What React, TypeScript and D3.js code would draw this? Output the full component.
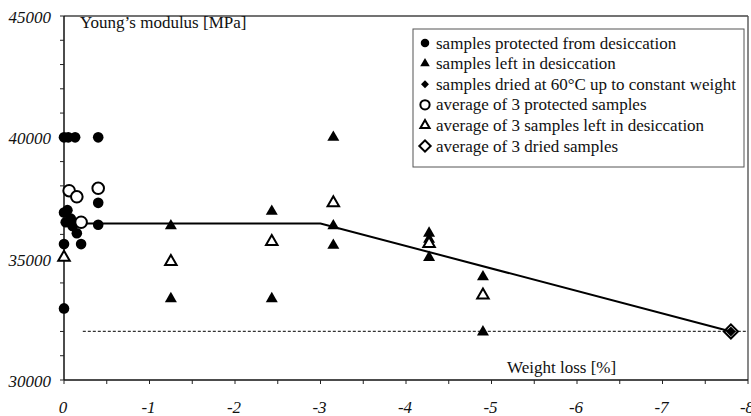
import React from 'react';
import * as d3 from 'd3';

// ---- data ----
const xTickValues = [0, -1, -2, -3, -4, -5, -6, -7, -8];
const xTickLabels = ['0', '-1', '-2', '-3', '-4', '-5', '-6', '-7', '-8'];
const yTickValues = [30000, 35000, 40000, 45000];
const yTickLabels = ['30000', '35000', '40000', '45000'];

const protectedSamples: [number, number][] = [
  [0, 40000], [-0.05, 40000], [-0.13, 40000], [-0.4, 40000],
  [-0.4, 37300], [-0.4, 36400],
  [0, 36900], [-0.04, 37000], [-0.02, 36500], [-0.08, 36650], [-0.1, 36350],
  [-0.15, 36050], [-0.2, 35600], [0, 35600], [0, 32950],
];
const protectedAverages: [number, number][] = [
  [-0.06, 37800], [-0.15, 37550], [-0.4, 37900], [-0.2, 36500],
];
const desiccationSamples: [number, number][] = [
  [-1.25, 36350], [-1.25, 33350],
  [-2.43, 36950], [-2.43, 33350],
  [-3.15, 40000], [-3.15, 36350], [-3.15, 35550],
  [-4.27, 36050], [-4.27, 35800], [-4.27, 35050],
  [-4.9, 34250], [-4.9, 31980],
];
const desiccationAverages: [number, number][] = [
  [0, 35050], [-1.25, 34880], [-2.43, 35700], [-3.15, 37300], [-4.27, 35620], [-4.9, 33500],
];
const driedSamples: [number, number][] = [[-7.8, 32000]];
const driedAverages: [number, number][] = [[-7.8, 32000]];
const trendLine: [number, number][] = [[0, 36450], [-3.0, 36450], [-7.8, 32000]];
const dryLevel: [number, number][] = [[-0.22, 32000], [-8, 32000]];

const legendLabels = [
  'samples protected from desiccation',
  'samples left in desiccation',
  'samples dried at 60°C up to constant weight',
  'average of 3 protected samples',
  'average of 3 samples left in desiccation',
  'average of 3 dried samples',
];

const W = 751, H = 416;
const L = 64, R = 748, T = 16, B = 380;

const x = d3.scaleLinear().domain([0, -8]).range([L, R]);
const y = d3.scaleLinear().domain([30000, 45000]).range([B, T]);

const circlePath = (r: number) => d3.symbol().type(d3.symbolCircle).size(Math.PI * r * r)();
const triPath = (a: number) => d3.symbol().type(d3.symbolTriangle).size((Math.sqrt(3) / 4) * a * a)();
const diamondPath = (s: number) => d3.symbol().type(d3.symbolSquare).size(s * s)();

type Kind = 'fc' | 'ft' | 'fd' | 'oc' | 'ot' | 'od';

function Marker({ kind, cx, cy, scale = 1 }: { kind: Kind; cx: number; cy: number; scale?: number }) {
  const common = { transform: `translate(${cx},${cy})` };
  switch (kind) {
    case 'fc':
      return <path {...common} d={circlePath(5.3 * scale)!} fill="#000" />;
    case 'ft':
      return <path {...common} d={triPath(12 * scale)!} fill="#000" />;
    case 'fd':
      return <path transform={`translate(${cx},${cy}) rotate(45)`} d={diamondPath(7 * scale)!} fill="#000" />;
    case 'oc':
      return <path {...common} d={circlePath(5.8 * scale)!} fill="#fff" stroke="#000" strokeWidth={2} />;
    case 'ot':
      return <path {...common} d={triPath(11.5 * scale)!} fill="#fff" stroke="#000" strokeWidth={2} />;
    case 'od':
      return <path transform={`translate(${cx},${cy}) rotate(45)`} d={diamondPath(10 * scale)!} fill="none" stroke="#000" strokeWidth={2} />;
  }
}

const SERIF = '"Times New Roman", Times, "Liberation Serif", "DejaVu Serif", "Noto Serif", serif';

export default function App() {
  const line = d3.line<[number, number]>().x(d => x(d[0])).y(d => y(d[1]));
  const xMinor = d3.range(0, -8.01, -0.5);
  const yMinor = d3.range(30000, 45001, 1000);
  const legendKinds: Kind[] = ['fc', 'ft', 'fd', 'oc', 'ot', 'od'];

  return (
    <svg width={W} height={H} style={{ position: 'absolute', left: 0, top: 0, background: '#fff' }}>
      {/* frame */}
      <line x1={L} x2={R} y1={T} y2={T} stroke="#444" strokeWidth={1.4} />
      <line x1={R} x2={R} y1={T} y2={B} stroke="#555" strokeWidth={1.4} />
      <line x1={L} x2={L} y1={T} y2={B} stroke="#111" strokeWidth={1.5} />
      <line x1={L} x2={R} y1={B} y2={B} stroke="#111" strokeWidth={1.5} />

      {/* y ticks */}
      {yMinor.map(v => (
        <line key={'ym' + v} x1={L - 4} x2={L} y1={y(v)} y2={y(v)} stroke="#222" strokeWidth={1} />
      ))}
      <g fontFamily={SERIF} fontStyle="italic" fontSize={17} fill="#111">
        {yTickValues.map((v, i) => (
          <text key={'yl' + v} x={51} y={y(v) + 7} textAnchor="end">{yTickLabels[i]}</text>
        ))}
      </g>

      {/* x ticks */}
      {xMinor.map(v => (
        <line key={'xm' + v} x1={x(v)} x2={x(v)} y1={B} y2={B + 4} stroke="#222" strokeWidth={1} />
      ))}
      <g fontFamily={SERIF} fontStyle="italic" fontSize={17} fill="#111">
        {xTickValues.map((v, i) => (
          <text key={'xl' + v} x={x(v) - 1} y={413} textAnchor="middle">{xTickLabels[i]}</text>
        ))}
      </g>

      {/* reference lines */}
      <path d={line(dryLevel)!} fill="none" stroke="#333" strokeWidth={1.3} strokeDasharray="3,2" />
      <path d={line(trendLine)!} fill="none" stroke="#000" strokeWidth={2} />

      {/* data */}
      {protectedSamples.map((d, i) => <Marker key={'ps' + i} kind="fc" cx={x(d[0])} cy={y(d[1])} />)}
      {protectedAverages.map((d, i) => <Marker key={'pa' + i} kind="oc" cx={x(d[0])} cy={y(d[1])} />)}
      {desiccationSamples.map((d, i) => <Marker key={'ds' + i} kind="ft" cx={x(d[0])} cy={y(d[1])} />)}
      {desiccationAverages.map((d, i) => <Marker key={'da' + i} kind="ot" cx={x(d[0])} cy={y(d[1])} />)}
      {driedAverages.map((d, i) => <Marker key={'dra' + i} kind="od" cx={x(d[0])} cy={y(d[1])} />)}
      {driedSamples.map((d, i) => <Marker key={'drs' + i} kind="fd" cx={x(d[0])} cy={y(d[1])} />)}

      {/* axis titles */}
      <g fontFamily={SERIF} fontSize={17} fill="#111">
        <text x={80} y={28}>Young’s modulus [MPa]</text>
        <text x={507} y={373}>Weight loss [%]</text>
      </g>

      {/* legend */}
      <rect x={413} y={29} width={331} height={138} fill="#fff" stroke="#555" strokeWidth={1} />
      {legendLabels.map((lab, i) => {
        const cy = 43 + i * 20.6;
        return (
          <g key={'lg' + i}>
            <Marker kind={legendKinds[i]} cx={425} cy={cy} scale={0.8} />
            <text x={436} y={cy + 5.5} fontSize={17} fill="#111" fontFamily={SERIF}>{lab}</text>
          </g>
        );
      })}
    </svg>
  );
}
